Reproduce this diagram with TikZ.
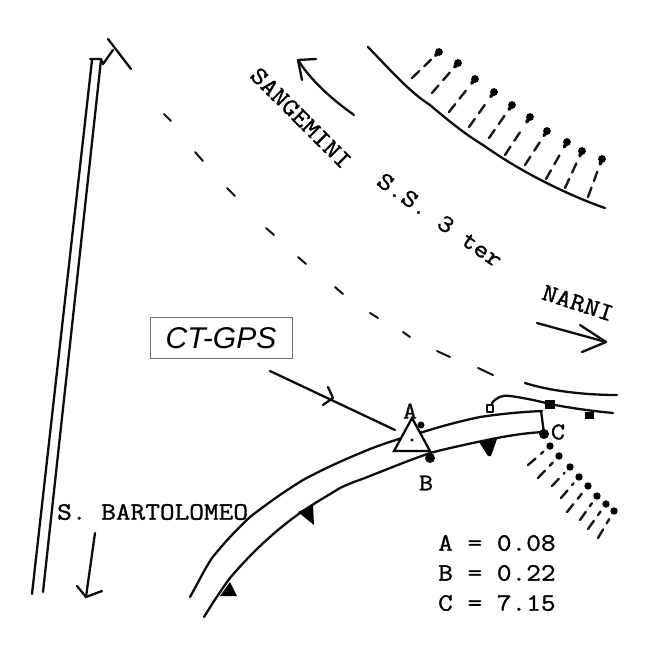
\documentclass[tikz,border=0pt]{standalone}
\usepackage{fontspec}
\usetikzlibrary{calc}
\setmainfont{Liberation Sans}
\newfontfamily\typew[FakeStretch=1.14,FakeBold=1.2]{Latin Modern Mono}
\begin{document}
\begin{tikzpicture}[x=1pt,y=-1pt,
  ink/.style={draw=black!95,line width=2.3pt,line cap=round,line join=round},
  thin ink/.style={draw=black!92,line width=2pt,line cap=round,line join=round},
  gash/.style={draw=black!90,line width=2.4pt,line cap=round,dash pattern=on 10pt off 7pt},
  tear/.style={draw=black,line width=3.4pt,line cap=round},
  tw/.style={font=\typew\fontsize{25}{27}\selectfont,text=black,inner sep=0pt},
  lab/.style={font=\typew\fontsize{24}{26}\selectfont,text=black,inner sep=0pt},
  blob/.style={fill=black,draw=none}]
\useasboundingbox (0,0) rectangle (649,649);
\fill[white] (0,0) rectangle (649,649);

% left road
\draw[ink] (32,594) -- (92,60);
\draw[ink] (43,592) -- (101,60);
\draw[ink] (90,59) -- (101,59) -- (103,64) -- (113,50);
\draw[ink] (108,39) -- (131,69);
% arrow S. Bartolomeo
\draw[ink] (95,533) -- (86,597);
\draw[ink] (77,586) -- (86,597) -- (102,591);

% centre dashed line
\foreach \a/\b/\c/\d in {164/114/171/121,195/152/203/161,227/188/235/196,266/228/274/235,
  298/257/306/264,335/287/343/294,370/313/378/318,403/332/410/337,437/351/450/357,478/368/493/375}
  \draw[thin ink] (\a,\b) -- (\c,\d);

% upper embankment
\draw[ink] (368,47) .. controls (395,75) and (410,92) .. (430,105)
  .. controls (450,122) and (465,134) .. (483,145)
  .. controls (500,157) and (518,168) .. (537,178)
  .. controls (560,190) and (582,200) .. (605,208);
\foreach \tx/\ty/\bx/\by in {439/52/412/78,458/63/432/93,475/79/449/112,494/92/469/127,
  512/105/489/138,530/117/505/155,547/131/525/165,567/142/546/179,582/151/565/188,602/159/588/197}{
  \fill[blob] (\tx,\ty) circle (3.9pt);
  \draw[tear] (\tx,\ty) -- ($(\tx,\ty)!0.13!(\bx,\by)$);
  \draw[gash] (\bx,\by) -- ($(\tx,\ty)!0.3!(\bx,\by)$);
}

% SANGEMINI arrow
\draw[ink] (354,115) .. controls (333,100) and (312,82) .. (298,60);
\draw[ink] (316,59) -- (298,60) -- (302,80);

% NARNI arrow
\draw[ink] (537,323) -- (606,342);
\draw[ink] (580,325) -- (606,342) -- (582,352);

% lower road
\draw[ink] (190,597) .. controls (198,583) and (204,570) .. (212,558)
  .. controls (224,543) and (236,530) .. (250,517)
  .. controls (268,503) and (285,491) .. (303,480)
  .. controls (325,468) and (348,458) .. (370,449)
  .. controls (388,442) and (405,437) .. (423,432)
  .. controls (442,426) and (461,421) .. (480,417)
  .. controls (500,414) and (520,412) .. (542,411);
\draw[ink] (204,617) .. controls (212,604) and (221,590) .. (230,578)
  .. controls (252,552) and (276,530) .. (300,513)
  .. controls (313,504) and (327,496) .. (340,488)
  .. controls (350,483) and (360,480) .. (370,476)
  .. controls (390,468) and (410,460) .. (430,453)
  .. controls (449,448) and (468,444) .. (487,440)
  .. controls (506,436) and (525,433) .. (543,432);
\draw[ink] (541,411) -- (544,433);
\fill[blob] (544,434) circle (5pt);

% barbs on lower road
\fill[blob] (479,442) -- (497,439) -- (491,456) -- (488,456) -- cycle;
\fill[blob] (298,512) -- (313,505) -- (314,525) -- cycle;
\fill[blob] (220,596) -- (230,582) -- (237,596) -- cycle;

% upper right road edges
\draw[ink] (525,383) .. controls (550,391) and (585,395) .. (617,395);
\draw[ink] (492,403) .. controls (497,397) and (502,395) .. (510,396)
  .. controls (525,398) and (538,401) .. (550,404) .. controls (570,408) and (592,411) .. (613,413);
\draw[ink,fill=white] (487,405) rectangle (493,412);
\fill[blob] (545,400) rectangle (555,409);
\fill[blob] (585,412) rectangle (594,419);

% lower right hatching
\foreach \tx/\ty/\bx/\by in {550/446/528/465,559/456/538/478,570/467/552/486,579/477/561/498,
  588/486/567/512,597/496/580/520,606/504/588/529,614/511/598/538}{
  \fill[blob] (\tx,\ty) circle (3.7pt);
  \draw[gash] (\bx,\by) -- ($(\tx,\ty)!0.3!(\bx,\by)$);
}

% survey line
\draw[ink] (270,371) -- (395,430);
\draw[ink] (328,387) -- (333,398) -- (323,405);

% station symbols
\node[fill=black,circle,inner sep=0pt,minimum size=7pt] (dotA) at (421,425) {};
\node[fill=black,circle,inner sep=0pt,minimum size=10pt] (dotB) at (430,458) {};
\draw[draw=black,line width=2.2pt,fill=white,line join=miter] (412,418) -- (430,451) -- (394,451) -- cycle;
\fill[blob] (412,440) circle (1.7pt);

% labels
\node[lab] (labA) at (410,411) {A};
\node[lab] (labB) at (426,483) {B};
\node[lab] (labC) at (558,432) {C};
\node[tw,rotate=-45] (sang) at (301,118) {SANGEMINI};
\node[tw,rotate=-35] (ss) at (440,220) {S.S. 3 ter};
\node[tw,rotate=-18] (narni) at (578,303) {NARNI};
\node[tw,anchor=west] (bart) at (57,512) {S. BARTOLOMEO};
\node[tw,anchor=west] (va) at (438,543) {A = 0.08};
\node[tw,anchor=west] (vb) at (438,573) {B = 0.22};
\node[tw,anchor=west] (vc) at (438,603) {C = 7.15};
\node[draw=black!55,line width=0.8pt,minimum width=142pt,minimum height=41pt,inner sep=0pt,
  font=\fontsize{30}{32}\selectfont\itshape] (ct) at (221,338) {CT-GPS};
\end{tikzpicture}
\end{document}
